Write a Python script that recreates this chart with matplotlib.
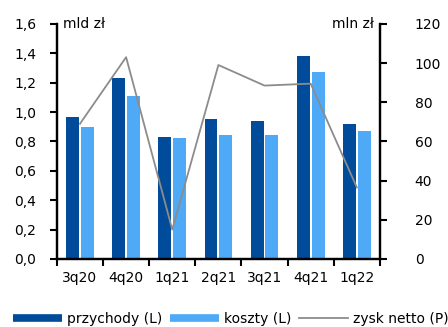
import numpy as np
import matplotlib.pyplot as plt
from matplotlib.lines import Line2D
from matplotlib.ticker import FuncFormatter

quarters = ["3q20", "4q20", "1q21", "2q21", "3q21", "4q21", "1q22"]
przychody = [0.965, 1.23, 0.83, 0.95, 0.94, 1.38, 0.92]
koszty = [0.90, 1.11, 0.82, 0.845, 0.845, 1.27, 0.87]
zysk_netto = [69, 103, 15, 99, 88.5, 89.5, 36.5]

dark = "#004c9a"
light = "#4eaaf6"
grey = "#8c8c8c"

plt.rcParams["font.family"] = ["DejaVu Sans"]
plt.rcParams["font.size"] = 10

fig = plt.figure(figsize=(4.48, 3.27), dpi=100)
ax = fig.add_axes([0.127, 0.208, 0.721, 0.719])
ax2 = ax.twinx()

x = np.arange(len(quarters))
w = 0.28
ax.bar(x - 0.16, przychody, w, color=dark, zorder=2)
ax.bar(x + 0.16, koszty, w, color=light, zorder=2)
ax2.plot(x, zysk_netto, color=grey, lw=1.3)

ax.set_xlim(-0.5, len(quarters) - 0.5)
ax.set_ylim(0, 1.6)
ax.set_yticks(np.arange(0, 1.61, 0.2))
ax.yaxis.set_major_formatter(FuncFormatter(lambda v, p: f"{v:.1f}".replace(".", ",")))
ax2.set_ylim(0, 120)
ax2.set_yticks(range(0, 121, 20))

ax.set_xticks(x)
ax.set_xticklabels(quarters)
ax.set_xticks(np.arange(-0.5, len(quarters), 1), minor=True)
ax.tick_params(axis="x", which="major", length=0, pad=9)
ax.tick_params(axis="x", which="minor", length=5, width=1.5, direction="out")
ax.tick_params(axis="y", length=5, width=1.5, pad=10)
ax2.tick_params(axis="y", length=5, width=1.5, pad=20)

for a in (ax, ax2):
    a.spines["top"].set_visible(False)
    for s in ("left", "right", "bottom"):
        a.spines[s].set_linewidth(1.6)

ax.text(-0.37, 1.6, "mld zł", ha="left", va="center")
ax2.text(6.37, 120, "mln zł", ha="right", va="center")

handles = [
    Line2D([], [], color=dark, lw=5.5, solid_capstyle="butt"),
    Line2D([], [], color=light, lw=5.5, solid_capstyle="butt"),
    Line2D([], [], color=grey, lw=1.3),
]
fig.legend(handles, ["przychody (L)", "koszty (L)", "zysk netto (P)"],
           loc="center", bbox_to_anchor=(0.515, 0.025), ncol=3, frameon=False,
           handlelength=3.5, handletextpad=0.35, columnspacing=0.6)

plt.savefig("out.png", dpi=100)
